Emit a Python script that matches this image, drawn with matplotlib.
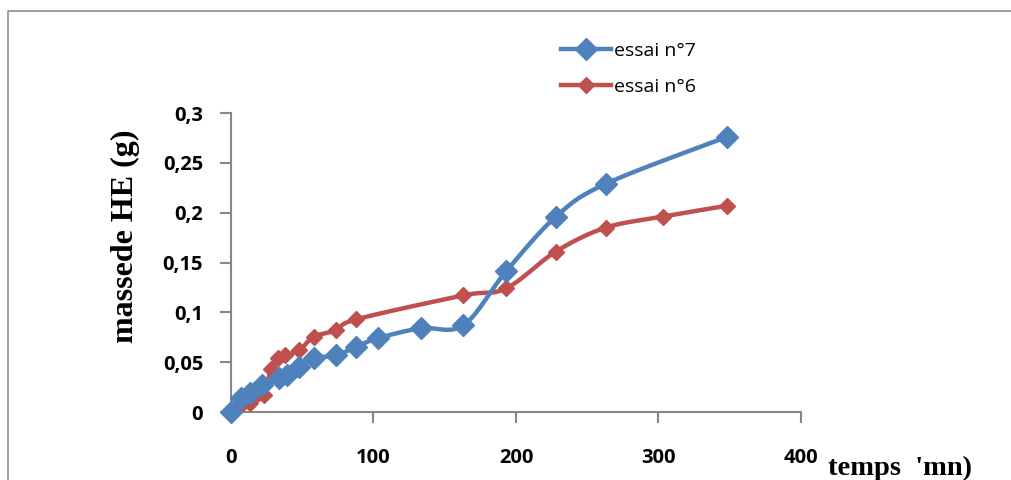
import matplotlib
matplotlib.use('Agg')
import matplotlib.pyplot as plt
from matplotlib.lines import Line2D
import numpy as np

# essai n°7
t7 = [0, 7, 13, 22, 34, 39, 48, 58, 74, 88, 103, 133, 163, 193, 228, 263, 348]
m7 = [0, 0.014, 0.019, 0.027, 0.034, 0.037, 0.0455, 0.054, 0.057, 0.0656, 0.074,
      0.084, 0.087, 0.141, 0.196, 0.229, 0.276]
# essai n°6
t6 = [0, 7, 13, 23, 28, 33, 38, 48, 58, 74, 88, 163, 193, 228, 263, 303, 348]
m6 = [0, 0.0067, 0.0087, 0.017, 0.043, 0.054, 0.057, 0.062, 0.0755, 0.082, 0.093,
      0.117, 0.124, 0.161, 0.185, 0.196, 0.207]

blue = '#4F81BD'
red = '#C0504D'

W, H = 1012, 480
fig = plt.figure(figsize=(W / 100, H / 100), dpi=100)
ax = fig.add_axes([231 / W, 1 - 412 / H, 570 / W, 299 / H])
ax.set_xlim(0, 400)
ax.set_ylim(0, 0.3)

# outer frame, only top and left edges visible in the screenshot
fig.lines.append(Line2D([8 / W, 8 / W, 1], [0, 1 - 11 / H, 1 - 11 / H],
                        transform=fig.transFigure, color='#8c8c8c', linewidth=1.2))


def smooth(x, y, sx=400 / 570, sy=0.3 / 299, n=30):
    # Excel-like smoothed line: Catmull-Rom bezier segments in pixel space
    p = np.column_stack([np.asarray(x) / sx, np.asarray(y) / sy])
    out = [p[0]]
    for i in range(len(p) - 1):
        p0 = p[i - 1] if i > 0 else p[i]
        p3 = p[i + 2] if i + 2 < len(p) else p[i + 1]
        c1 = p[i] + (p[i + 1] - p0) / 6
        c2 = p[i + 1] - (p3 - p[i]) / 6
        s = np.linspace(0, 1, n)[1:, None]
        seg = ((1 - s) ** 3 * p[i] + 3 * (1 - s) ** 2 * s * c1
               + 3 * (1 - s) * s ** 2 * c2 + s ** 3 * p[i + 1])
        out.extend(seg)
    out = np.array(out)
    return out[:, 0] * sx, out[:, 1] * sy


for t, m, c, ms in [(t6, m6, red, 8), (t7, m7, blue, 11)]:
    xs, ys = smooth(t, m)
    ax.plot(xs, ys, color=c, linewidth=3.2, solid_capstyle='round', zorder=2, clip_on=False)
    ax.plot(t, m, linestyle='none', marker='D', markersize=ms, color=c,
            markeredgecolor=c, zorder=3, clip_on=False)

for s in ['top', 'right']:
    ax.spines[s].set_visible(False)
for s in ['left', 'bottom']:
    ax.spines[s].set_color('#878787')
    ax.spines[s].set_linewidth(1.5)

ax.set_xticks([0, 100, 200, 300, 400])
ax.set_yticks([0, 0.05, 0.1, 0.15, 0.2, 0.25, 0.3])
ax.set_yticklabels(['0', '0,05', '0,1', '0,15', '0,2', '0,25', '0,3'])
ax.tick_params(axis='both', color='#878787', width=1.5, length=8,
               labelsize=14.5, direction='out')
ax.tick_params(axis='y', pad=12)
ax.tick_params(axis='x', pad=18)
for lab in ax.get_xticklabels() + ax.get_yticklabels():
    lab.set_fontweight('bold')
    lab.set_family('Open Sans')

fig.text(125 / W, 1 - 236 / H, 'massede HE (g)', rotation=90, ha='center', va='center',
         family='Liberation Serif', fontweight='bold', fontsize=23)
fig.text(828 / W, 1 - 468 / H, "temps  'mn)", ha='left', va='center',
         family='Liberation Serif', fontweight='bold', fontsize=20.5)

handles = [Line2D([], [], color=blue, linewidth=3.2, marker='D', markersize=11),
           Line2D([], [], color=red, linewidth=3.2, marker='D', markersize=8)]
leg = fig.legend(handles, ['essai n°7', 'essai n°6'], loc='upper left',
                 bbox_to_anchor=(543 / W, 1 - 24 / H), frameon=False,
                 prop={'family': 'Open Sans', 'size': 14}, handlelength=2.6,
                 handletextpad=0.15, labelspacing=0.95)

fig.savefig('out.png', dpi=100)
